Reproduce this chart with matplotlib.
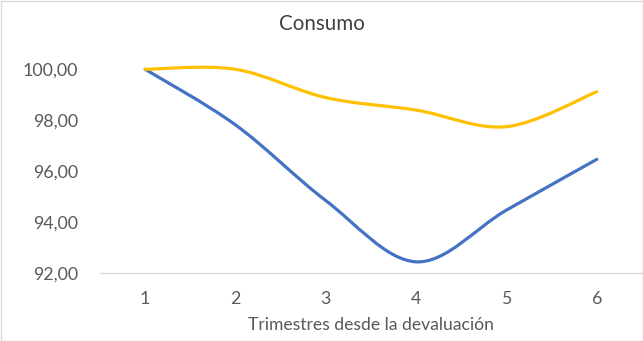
import numpy as np
import matplotlib
matplotlib.use("Agg")
import matplotlib.pyplot as plt
from matplotlib.path import Path
from matplotlib.patches import PathPatch, Rectangle

quarters = [1, 2, 3, 4, 5, 6]
serie_azul = [100.00, 97.82, 94.85, 92.45, 94.48, 96.47]
serie_amarilla = [100.00, 100.00, 98.89, 98.40, 97.75, 99.12]
yticks = [92, 94, 96, 98, 100]
ytick_labels = ["92,00", "94,00", "96,00", "98,00", "100,00"]
title = "Consumo"
xlabel = "Trimestres desde la devaluación"

plt.rcParams['font.family'] = ['Lato', 'DejaVu Sans']

def smooth_path(xs, ys):
    pts = np.column_stack([xs, ys]).astype(float)
    n = len(pts)
    verts = [pts[0]]
    codes = [Path.MOVETO]
    for i in range(n - 1):
        p0 = pts[i - 1] if i > 0 else pts[i]
        p1 = pts[i]
        p2 = pts[i + 1]
        p3 = pts[i + 2] if i + 2 < n else pts[i + 1]
        c1 = p1 + (p2 - p0) / 6.0
        c2 = p2 - (p3 - p1) / 6.0
        verts += [c1, c2, p2]
        codes += [Path.CURVE4] * 3
    return Path(verts, codes)

fig = plt.figure(figsize=(6.43, 3.41), dpi=100)
fig.patch.set_facecolor("white")
ax = fig.add_axes([100 / 643, (341 - 273.3) / 341, 542 / 643, (273.3 - 40) / 341])

for ys, col in [(serie_azul, "#4472C4"), (serie_amarilla, "#FFC000")]:
    patch = PathPatch(smooth_path(quarters, ys), facecolor="none", edgecolor=col,
                      lw=2.3, capstyle="round", joinstyle="round", transform=ax.transData)
    ax.add_patch(patch)

ax.set_xlim(0.5, 6.5)
ax.set_ylim(92, 92 + (273.3 - 40) / 25.5)
ax.set_xticks(quarters)
ax.set_xticklabels([str(q) for q in quarters])
ax.set_yticks(yticks)
ax.set_yticklabels(ytick_labels)
for s in ["top", "right", "left"]:
    ax.spines[s].set_visible(False)
ax.spines["bottom"].set_color("#D9D9D9")
ax.spines["bottom"].set_linewidth(1.0)
ax.tick_params(axis="both", length=0, labelsize=12.8, colors="#595959")
ax.tick_params(axis="x", pad=13)
ax.tick_params(axis="y", pad=16)
ax.set_xlabel(xlabel, fontsize=12.6, color="#595959", labelpad=7)

fig.text(0.5, 1 - 24 / 341, title, ha="center", va="center", fontsize=14.8, color="#404040")
fig.add_artist(Rectangle((0.5 / 643, 0.5 / 341), 642 / 643, 340 / 341, transform=fig.transFigure,
                         fill=False, edgecolor="#D9D9D9", lw=1.0))

fig.savefig("out.png", dpi=100)
